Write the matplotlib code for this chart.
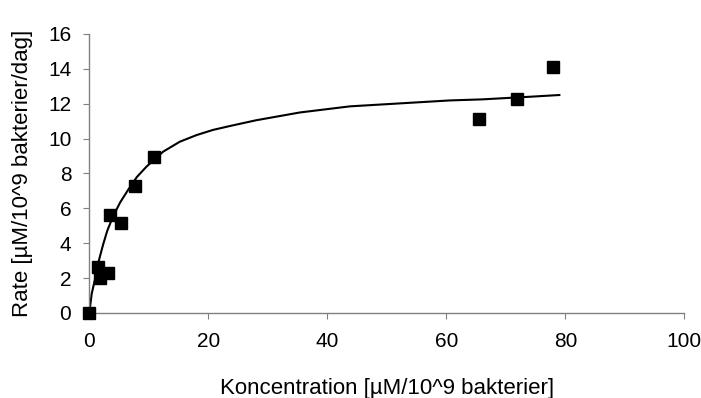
import matplotlib
matplotlib.use("Agg")
import matplotlib.pyplot as plt

plt.rcParams['font.family'] = ['Liberation Sans', 'DejaVu Sans']

# Measured points
conc = [0, 1.5, 1.8, 3.1, 3.5, 5.3, 7.6, 10.9, 65.5, 71.8, 77.9]
rate = [0, 2.65, 1.99, 2.28, 5.62, 5.14, 7.28, 8.96, 11.12, 12.27, 14.12]

# Fitted curve
curve_x = [0, 0.4, 1.0, 1.6, 2.3, 3.0, 4.0, 5.2, 6.5, 8.0, 9.6, 12.4, 15.2, 18.0,
           20.8, 23.6, 28.0, 35.4, 43.8, 52.2, 60.6, 66.0, 74.0, 79.0]
curve_y = [0, 1.1, 2.0, 3.0, 3.9, 4.7, 5.55, 6.35, 7.05, 7.8, 8.39, 9.25, 9.82, 10.2,
           10.5, 10.72, 11.05, 11.5, 11.85, 12.02, 12.19, 12.25, 12.4, 12.5]

x_ticks = [0, 20, 40, 60, 80, 100]
y_ticks = [0, 2, 4, 6, 8, 10, 12, 14, 16]

fig = plt.figure(figsize=(7.01, 3.98), dpi=100)
ax = fig.add_axes([0.1274, 0.2136, 0.9762 - 0.1274, 0.9146 - 0.2136])

ax.plot(curve_x, curve_y, color='black', lw=1.5, zorder=2)
ax.plot(conc, rate, ls='none', marker='s', ms=8.5, color='black', zorder=3,
        clip_on=False)

ax.set_xlim(0, 100)
ax.set_ylim(0, 16)
ax.set_xticks(x_ticks)
ax.set_yticks(y_ticks)
for s in ['top', 'right']:
    ax.spines[s].set_visible(False)
for s in ['left', 'bottom']:
    ax.spines[s].set_color('#808080')
    ax.spines[s].set_linewidth(1.0)
ax.tick_params(axis='both', direction='out', length=4, color='#808080',
               labelsize=15, labelcolor='black')
ax.tick_params(axis='x', pad=10)
ax.tick_params(axis='y', pad=9)

ax.set_xlabel('Koncentration [µM/10^9 bakterier]', fontsize=16, labelpad=19)
ax.set_ylabel('Rate [µM/10^9 bakterier/dag]', fontsize=16, labelpad=11)

fig.savefig('out.png', dpi=100)
